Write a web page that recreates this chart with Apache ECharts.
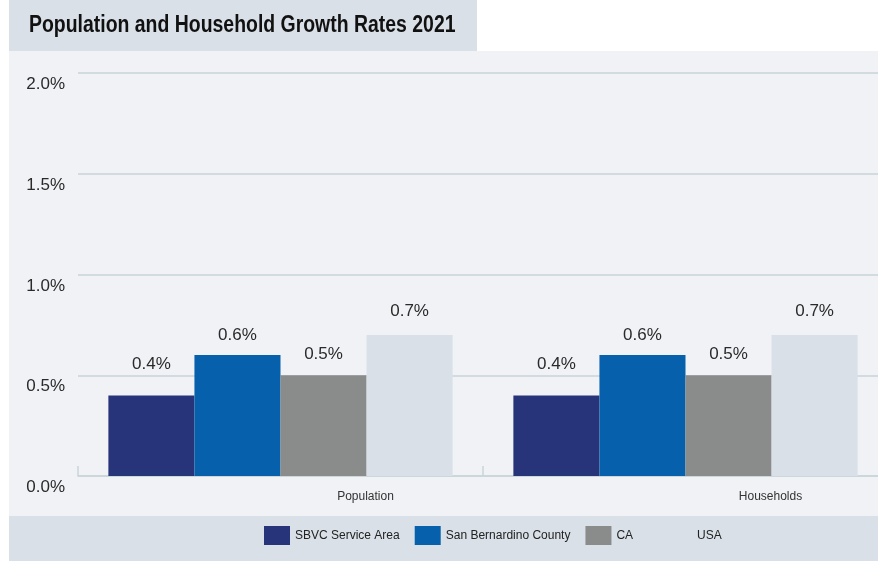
<!DOCTYPE html>
<html>
<head>
<meta charset="utf-8">
<script src="https://cdn.jsdelivr.net/npm/echarts@6/dist/echarts.min.js"></script>
<style>
  html, body { margin: 0; padding: 0; background: #fff; }
  #chart { width: 878px; height: 561px; }
</style>
</head>
<body>
<div id="chart"></div>
<script>
// data
const categories = ['Population', 'Households'];
const seriesNames = ['SBVC Service Area', 'San Bernardino County', 'CA', 'USA'];
const sbvc = [0.4, 0.4];
const sbCounty = [0.6, 0.6];
const ca = [0.5, 0.5];
const usa = [0.7, 0.7];
const yTicks = [0, 0.5, 1.0, 1.5, 2.0];

const colors = ['#27347a', '#0660ab', '#8a8c8c', '#d9e0e8'];
const labelDist = [23, 11, 12, 15];
const font = 'Liberation Sans, Arial, sans-serif';

function makeSeries(name, data, i) {
  return {
    name: name,
    type: 'bar',
    data: data,
    barGap: 0,
    barCategoryGap: '15%',
    itemStyle: { color: colors[i] },
    label: {
      show: true,
      position: 'top',
      distance: labelDist[i],
      fontFamily: font,
      fontSize: 17,
      color: '#2a2a2a',
      formatter: p => p.value.toFixed(1) + '%'
    }
  };
}

const legendText = { fontFamily: font, fontSize: 12, color: '#222' };

const option = {
  animation: false,
  backgroundColor: '#ffffff',
  graphic: [
    { type: 'rect', z: -10, shape: { x: 9, y: 0, width: 468, height: 51 }, style: { fill: '#d9e0e8' } },
    { type: 'rect', z: -10, shape: { x: 9, y: 51, width: 869, height: 465 }, style: { fill: '#f0f2f6' } },
    { type: 'rect', z: -10, shape: { x: 9, y: 516, width: 869, height: 45 }, style: { fill: '#d9e0e8' } },
    {
      type: 'text',
      x: 29,
      y: 26,
      scaleX: 0.845,
      style: {
        text: 'Population and Household Growth Rates 2021',
        font: 'bold 23px Liberation Sans, Arial, sans-serif',
        fill: '#111',
        verticalAlign: 'middle'
      }
    }
  ],
  legend: [
    {
      left: 264,
      top: 526,
      padding: 0,
      itemWidth: 26,
      itemHeight: 19,
      itemGap: 15,
      icon: 'rect',
      data: seriesNames.slice(0, 3),
      textStyle: legendText
    },
    {
      left: 666,
      top: 526,
      padding: 0,
      itemWidth: 26,
      itemHeight: 19,
      icon: 'rect',
      data: seriesNames.slice(3),
      textStyle: legendText
    }
  ],
  grid: { left: 78, width: 810, top: 73, bottom: 85, outerBoundsMode: 'none' },
  xAxis: {
    type: 'category',
    data: categories,
    axisLine: { lineStyle: { color: '#c9d5d9', width: 1.5 } },
    axisTick: { show: true, inside: true, length: 10, lineStyle: { color: '#c9d5d9', width: 1.5 } },
    axisLabel: {
      fontFamily: font,
      fontSize: 12,
      color: '#333',
      margin: 15,
      padding: [0, 0, 0, 170]
    }
  },
  yAxis: {
    type: 'value',
    min: yTicks[0],
    max: yTicks[yTicks.length - 1],
    interval: 0.5,
    axisLine: { show: false },
    axisTick: { show: false },
    splitLine: { lineStyle: { color: '#c9d5d9', width: 1.5 } },
    axisLabel: {
      fontFamily: font,
      fontSize: 17,
      color: '#2a2a2a',
      margin: 13,
      verticalAlign: 'top',
      padding: [3, 0, 0, 0],
      formatter: v => v.toFixed(1) + '%'
    }
  },
  series: [
    makeSeries(seriesNames[0], sbvc, 0),
    makeSeries(seriesNames[1], sbCounty, 1),
    makeSeries(seriesNames[2], ca, 2),
    makeSeries(seriesNames[3], usa, 3)
  ]
};

const chart = echarts.init(document.getElementById('chart'));
chart.setOption(option);
</script>
</body>
</html>
